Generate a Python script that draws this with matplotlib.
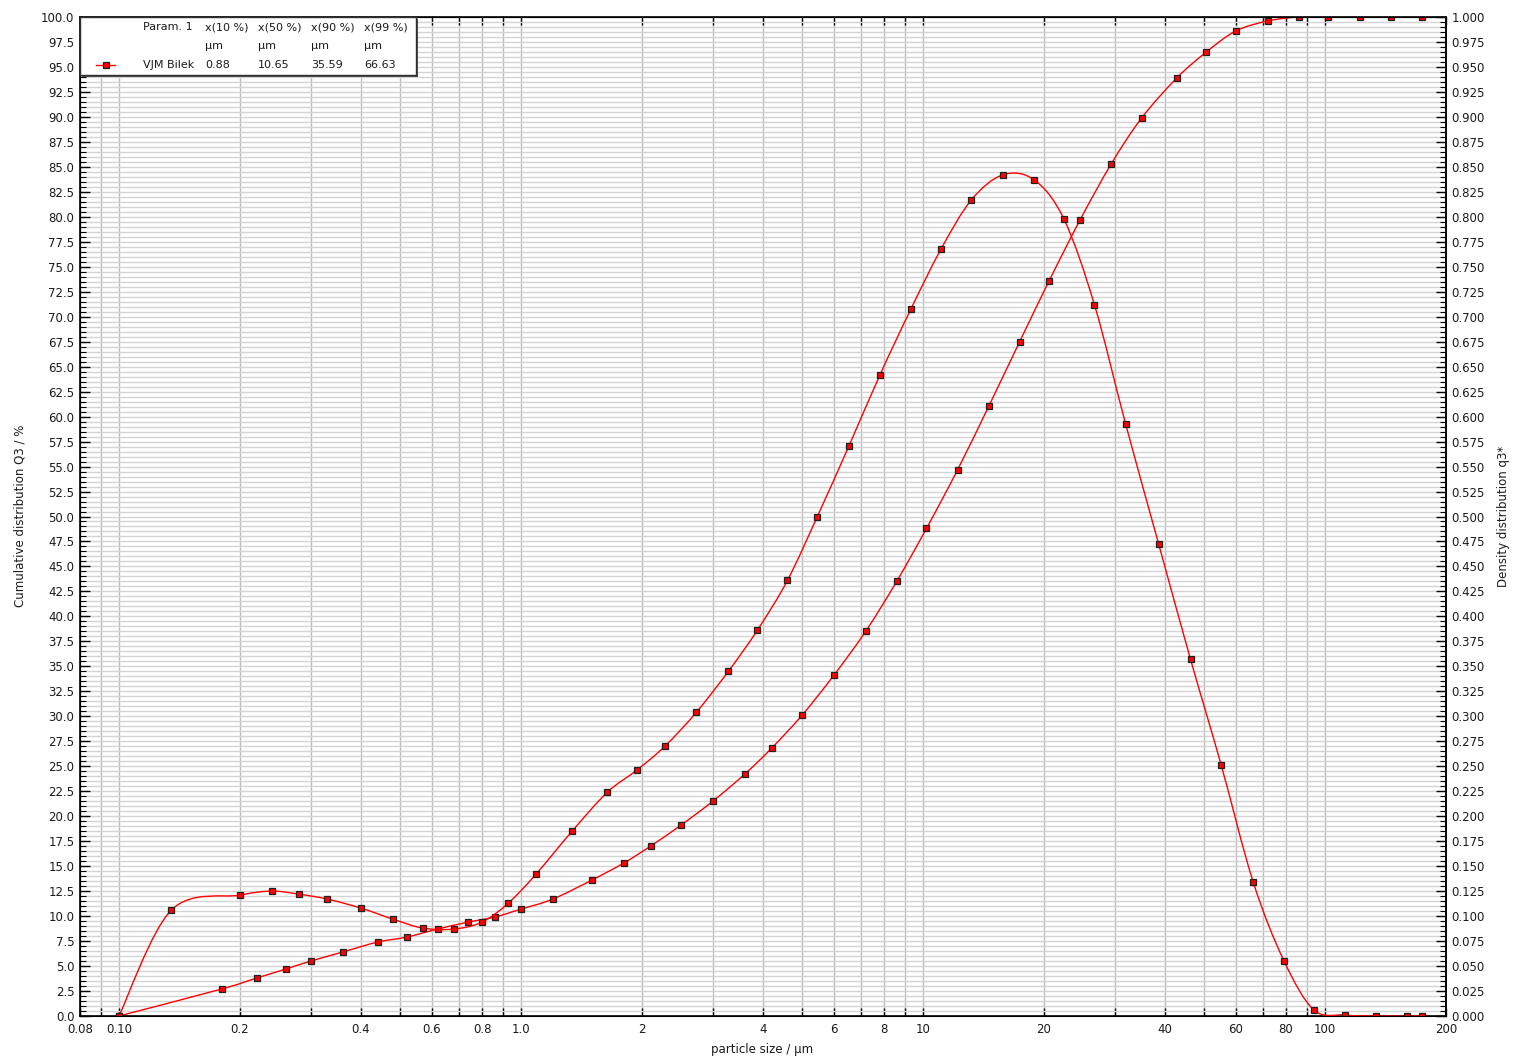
import numpy as np
import matplotlib
matplotlib.use("Agg")
import matplotlib.pyplot as plt
from matplotlib.path import Path
from matplotlib.patches import PathPatch, Rectangle
from matplotlib.ticker import FixedLocator, FixedFormatter, MultipleLocator, NullFormatter, FormatStrFormatter

# cumulative distribution Q3 (%), at class upper bounds (um)
size_cum = [0.10, 0.18, 0.22, 0.26, 0.30, 0.36, 0.44, 0.52, 0.62, 0.74,
            0.86, 1.00, 1.20, 1.50, 1.80, 2.10, 2.50, 3.00, 3.60, 4.20,
            5.00, 6.00, 7.20, 8.60, 10.2, 12.2, 14.6, 17.4, 20.6, 24.6,
            29.4, 35.0, 42.8, 50.7, 60.0, 72.0, 86.0, 102, 122, 146, 174]
q3_cum = [0.0, 2.7, 3.8, 4.7, 5.5, 6.4, 7.4, 7.9, 8.7, 9.4,
          9.9, 10.7, 11.7, 13.6, 15.3, 17.0, 19.1, 21.5, 24.2, 26.8,
          30.1, 34.1, 38.5, 43.5, 48.8, 54.7, 61.1, 67.5, 73.6, 79.7,
          85.3, 89.9, 93.9, 96.5, 98.6, 99.6, 100.0, 100.0, 100.0, 100.0, 100.0]

# density distribution q3*
size_dens = [0.10, 0.135, 0.20, 0.24, 0.28, 0.33, 0.40, 0.48, 0.57, 0.68,
             0.80, 0.93, 1.09, 1.34, 1.64, 1.94, 2.28, 2.73, 3.28, 3.87,
             4.60, 5.46, 6.55, 7.82, 9.34, 11.1, 13.2, 15.8, 18.9, 22.4,
             26.7, 31.9, 38.6, 46.3, 55.2, 66.3, 79.1, 93.9, 112, 134, 160, 174]
q3_dens = [0.0, 0.106, 0.121, 0.125, 0.122, 0.117, 0.108, 0.097, 0.088, 0.087,
           0.094, 0.113, 0.142, 0.185, 0.224, 0.246, 0.270, 0.304, 0.345, 0.386,
           0.436, 0.500, 0.571, 0.642, 0.708, 0.768, 0.817, 0.842, 0.837, 0.798,
           0.712, 0.593, 0.472, 0.357, 0.251, 0.134, 0.055, 0.006, 0.001, 0.0, 0.0, 0.0]

x_major = [0.08, 0.1, 0.2, 0.4, 0.6, 0.8, 1, 2, 4, 6, 8, 10, 20, 40, 60, 80, 100, 200]
x_labels = ["0.08", "0.10", "0.2", "0.4", "0.6", "0.8", "1.0", "2", "4", "6", "8",
            "10", "20", "40", "60", "80", "100", "200"]
x_minor = [0.09, 0.3, 0.5, 0.7, 0.9, 3, 5, 7, 9, 30, 50, 70, 90]

leg_head = ["Param. 1", "x(10 %)", "x(50 %)", "x(90 %)", "x(99 %)"]
leg_unit = ["", "µm", "µm", "µm", "µm"]
leg_vals = ["VJM Bilek", "0.88", "10.65", "35.59", "66.63"]


def smooth(xs, ys):
    # catmull-rom curve through the points, in log-x space
    p = np.column_stack([np.log10(xs), ys])
    n = len(p)
    verts = [p[0]]
    codes = [Path.MOVETO]
    for i in range(n - 1):
        a, b, c, d = p[max(i - 1, 0)], p[i], p[i + 1], p[min(i + 2, n - 1)]
        verts += [b + (c - a) / 6, c - (d - b) / 6, c]
        codes += [Path.CURVE4] * 3
    v = np.array(verts)
    v[:, 0] = 10 ** v[:, 0]
    return Path(v, codes)


W, H = 1514, 1059
TXT = "#1a1a1a"
fig = plt.figure(figsize=(W / 100, H / 100), dpi=100)
ax = fig.add_axes([80 / W, 1 - 1016 / H, (1446 - 80) / W, (1016 - 17) / H])

ax.set_xscale("log")
ax.set_xlim(0.08, 200)
ax.set_ylim(0, 100)
ax.xaxis.set_major_locator(FixedLocator(x_major))
ax.xaxis.set_major_formatter(FixedFormatter(x_labels))
ax.xaxis.set_minor_locator(FixedLocator(x_minor))
ax.xaxis.set_minor_formatter(NullFormatter())
ax.yaxis.set_major_locator(MultipleLocator(2.5))
ax.yaxis.set_minor_locator(MultipleLocator(0.5))
ax.yaxis.set_major_formatter(FormatStrFormatter("%.1f"))

ax.set_axisbelow(True)
ax.grid(axis="y", which="both", color="#d4d4d4", lw=1.0)
ax.grid(axis="x", which="both", color="#bcbcbc", lw=1.0)

ax.tick_params(axis="x", which="both", direction="in", top=True, bottom=True,
               length=6, width=1, labelsize=8.5, pad=5, labelcolor=TXT)
ax.tick_params(axis="y", which="major", direction="in", length=7, width=1,
               labelsize=8.5, pad=4, labelcolor=TXT)
ax.tick_params(axis="y", which="minor", direction="in", length=4, width=0.8)
for s in ax.spines.values():
    s.set_linewidth(1.2)

ax2 = ax.twinx()
ax2.set_ylim(0, 1)
ax2.yaxis.set_major_locator(MultipleLocator(0.025))
ax2.yaxis.set_minor_locator(MultipleLocator(0.005))
ax2.yaxis.set_major_formatter(FormatStrFormatter("%.3f"))
ax2.tick_params(axis="y", which="major", direction="in", length=7, width=1,
                labelsize=8.5, pad=4, labelcolor=TXT)
ax2.tick_params(axis="y", which="minor", direction="in", length=4, width=0.8)
ax2.spines["right"].set_linewidth(1.2)

ax.add_patch(PathPatch(smooth(size_cum, q3_cum), fill=False, ec="#ff0000", lw=1.0))
ax.plot(size_cum, q3_cum, ls="none", marker="s", ms=5, mfc="#ff0000", mec="#202020", mew=0.9)
ax2.add_patch(PathPatch(smooth(size_dens, q3_dens), fill=False, ec="#ff0000", lw=1.0))
ax2.plot(size_dens, q3_dens, ls="none", marker="s", ms=5, mfc="#ff0000", mec="#202020", mew=0.9)

fig.text(20 / W, 1 - 516 / H, "Cumulative distribution Q3 / %", rotation=90,
         ha="center", va="center", fontsize=8.5, color=TXT)
fig.text(1503 / W, 1 - 516 / H, "Density distribution q3*", rotation=90,
         ha="center", va="center", fontsize=8.5, color=TXT)
fig.text(762 / W, 1 - 1049 / H, "particle size / µm",
         ha="center", va="center", fontsize=8.5, color=TXT)

# legend table box
shadow = Rectangle((82 / W, 1 - 77 / H), 336 / W, 58 / H, transform=fig.transFigure,
                   facecolor="#505050", edgecolor="none", zorder=4)
fig.add_artist(shadow)
lg = fig.add_axes([80 / W, 1 - 75 / H, 336 / W, 58 / H])
lg.set_zorder(5)
lg.set_xlim(80, 416)
lg.set_ylim(75, 17)
lg.set_xticks([])
lg.set_yticks([])
lg.set_facecolor("white")
for s in lg.spines.values():
    s.set_linewidth(1.0)
    s.set_color("#303030")
cols = [143, 205, 258, 311, 364]
for cx, h, u, v in zip(cols, leg_head, leg_unit, leg_vals):
    lg.text(cx, 27, h, ha="left", va="center", fontsize=8, color=TXT)
    lg.text(cx, 46, u, ha="left", va="center", fontsize=8, color=TXT)
    lg.text(cx, 65, v, ha="left", va="center", fontsize=8, color=TXT)
lg.plot([96, 115], [65, 65], color="#ff0000", lw=1.0)
lg.plot([105.5], [65], ls="none", marker="s", ms=5, mfc="#ff0000", mec="#202020", mew=0.9)

fig.savefig("out.png", dpi=100)
